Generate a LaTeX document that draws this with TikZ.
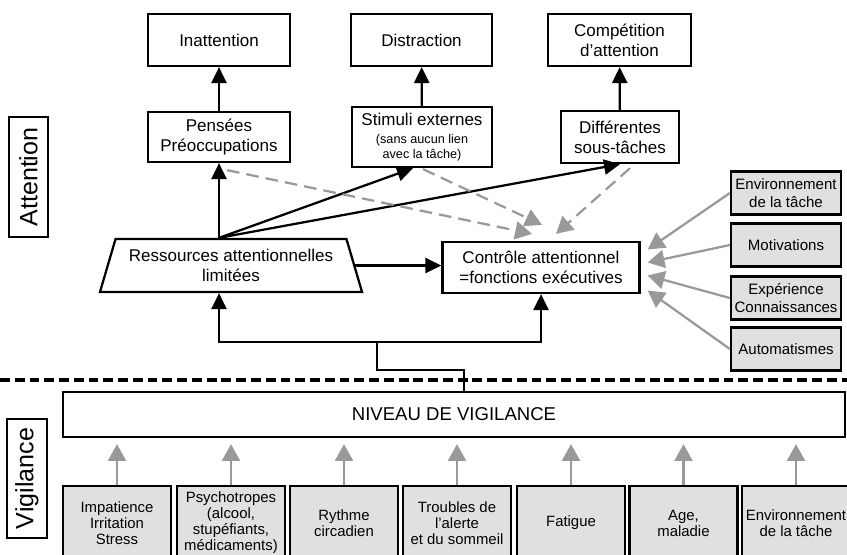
\documentclass[tikz,border=0pt]{standalone}
\usepackage{fontspec}
\setmainfont{Liberation Sans}
\usetikzlibrary{shapes.geometric,arrows.meta,calc}
\newcommand\petit{\fontsize{9}{10}\selectfont}

\begin{document}
\begin{tikzpicture}[x=0.025cm,y=-0.025cm,line width=1.6pt,>={Triangle[length=0.4cm,width=0.38cm]}]
        \tikzstyle{box}=[rectangle,draw=black,fill=white,align=center,inner sep=1pt,font=\fontsize{12.1}{14}\selectfont]
        \tikzstyle{trapeze}=[box,trapezium,trapezium left angle=66,trapezium right angle=66,trapezium stretches body,minimum width=6.55cm,minimum height=1.325cm]
        \tikzstyle{greybox}=[rectangle,draw=black,fill=black!12,align=center,inner sep=1pt,minimum width=2.75cm,minimum height=1.075cm,font=\fontsize{10.7}{12.5}\selectfont]
        \tikzstyle{facteur}=[greybox,minimum width=2.7cm,minimum height=1.85cm,font=\fontsize{10.6}{11.4}\selectfont]
        \tikzstyle{domaine}=[rectangle,draw=black,rotate=90,inner sep=1pt,font=\fontsize{17.8}{20}\selectfont]
        \tikzstyle{grisfleche}=[draw=black!40,-{Triangle[length=0.42cm,width=0.45cm]}]
        \tikzstyle{tirets}=[grisfleche,dash pattern=on 9pt off 5pt]

        \useasboundingbox (0,0) rectangle (847,554);
        \clip (0,0) rectangle (847,554);

        % partie attention
        \node[domaine,minimum width=3cm,minimum height=0.975cm] (attention) at (28.5,177) {Attention};
        \node[box,minimum width=3.55cm,minimum height=1.3cm] (inatt) at (219,40) {Inattention};
        \node[box,minimum width=3.525cm,minimum height=1.3cm] (distr) at (421.5,40) {Distraction};
        \node[box,minimum width=3.575cm,minimum height=1.3cm] (compet) at (619.5,40) {Compétition\\d'attention};
        \node[box,minimum width=3.55cm,minimum height=1.25cm] (pensees) at (219,137) {Pensées\\Préoccupations};
        \node[box,minimum width=3.5cm,minimum height=1.5cm] (stimuli) at (422,137) {Stimuli externes\\[-1pt]\petit (sans aucun lien\\[-4pt]\petit avec la tâche)};
        \node[box,minimum width=2.95cm,minimum height=1.3cm] (differ) at (620,137) {Différentes\\sous-tâches};
        \node[trapeze] (ress) at (231,265.5) {Ressources attentionnelles\\limitées};
        \node[box,minimum width=4.925cm,minimum height=1.275cm] (ctrl) at (541,267.5) {Contrôle attentionnel\\=fonctions exécutives};

        \foreach \nom/\y/\txt in {env/193/{Environnement\\de la tâche}, motiv/245/Motivations, exper/298/{Expérience\\Connaissances}, auto/349/Automatismes}
                \node[greybox] (\nom) at (786,\y) {\txt};

        \draw[->] (pensees) -- (inatt);
        \draw[->] (stimuli) -- (distr);
        \draw[->] (differ) -- (compet);

        \coordinate (depart) at (ress.north -| pensees);
        \draw[->] (depart) -- (pensees);
        \draw[->] (depart) -- ($(stimuli.south)+(-9,0)$);
        \draw[->] (depart) -- (differ.south);
        \draw[->] (ress.east) -- (ress.east -| ctrl.west);

        \draw[tirets] ($(pensees.south)+(8,7)$) -- ($(ctrl.north)+(-9,-7)$);
        \draw[tirets] ($(stimuli.south)+(1,1)$) -- ($(ctrl.north)+(1,-16)$);
        \draw[tirets] ($(differ.south)+(10,4)$) -- ($(ctrl.north)+(15,-7)$);

        \foreach \nom/\dy in {env/-18, motiv/-5, exper/8, auto/23}
                \draw[grisfleche] (\nom.west) -- ($(ctrl.east)+(7,\dy)$);

        % partie vigilance
        \node[domaine,minimum width=2.975cm,minimum height=1cm] (vigilance) at (27,478.5) {Vigilance};
        \node[box,minimum width=19.55cm,minimum height=1.125cm,font=\fontsize{13.2}{15}\selectfont] (niveau) at (454,414.5) {NIVEAU DE VIGILANCE};

        \foreach \num/\x/\txt in {1/117/{Impatience\\Irritation\\Stress}, 2/231/{Psychotropes\\(alcool,\\stupéfiants,\\médicaments)}, 3/344/{Rythme\\circadien}, 4/457/{Troubles de\\l'alerte\\et du sommeil}, 5/571/Fatigue, 6/683.5/{Age,\\maladie}, 7/796/{Environnement\\de la tâche}}
                \node[facteur] (F-\num) at (\x,523) {\txt};
        \foreach \num in {1,...,7}
                \draw[grisfleche,shorten >=0.15cm] (F-\num.north) -- (F-\num.north |- niveau.south);

        \coordinate (coude) at (464,370);
        \coordinate (branche) at (377,342);
        \draw (niveau.north -| coude) -- (coude) -| (branche);
        \draw[->] (branche) -| (ress.south -| pensees);
        \draw[->] (branche) -| (ctrl.south);

        \draw[line width=2.5pt,dash pattern=on 7pt off 3.5pt] (0,380) -- (847,380);
\end{tikzpicture}
\end{document}
